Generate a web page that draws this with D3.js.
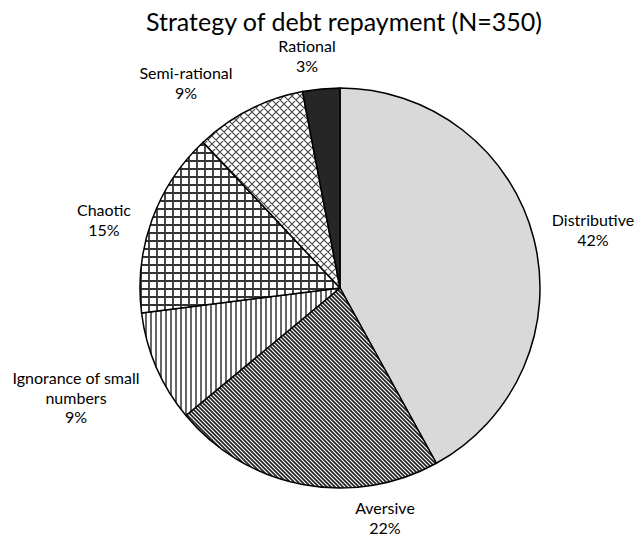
<!DOCTYPE html>
<html>
<head>
<meta charset="utf-8">
<script src="https://cdn.jsdelivr.net/npm/d3@7"></script>
<style>
  body { margin: 0; background: #fff; }
  text { font-family: Lato, "Open Sans", sans-serif; fill: #000; }
</style>
</head>
<body>
<div id="chart"></div>
<script>
'use strict'

// data, clockwise from 12 o'clock
const categories = ['Distributive', 'Aversive', 'Ignorance of small numbers', 'Chaotic', 'Semi-rational', 'Rational']
const shares = [42, 22, 9, 15, 9, 3]
const percentLabels = ['42%', '22%', '9%', '15%', '9%', '3%']
const labelLines = [['Distributive'], ['Aversive'], ['Ignorance of small', 'numbers'], ['Chaotic'], ['Semi-rational'], ['Rational']]

// label anchor (centre x, first baseline y) - placed by hand like the original
const labelPos = [[593, 226], [385, 514], [76, 384], [104, 216], [186, 79], [307, 52]]
const fills = ['#d9d9d9', 'url(#pAversive)', 'url(#pVert)', 'url(#pGrid)', 'url(#pDiamond)', '#262626']

const width = 641
const height = 537
const cx = 340
const cy = 288
const radius = 200

const svg = d3.select('#chart').append('svg')
  .attr('width', width)
  .attr('height', height)

const defs = svg.append('defs')

// dark downward diagonal
const pa = defs.append('pattern').attr('id', 'pAversive')
  .attr('patternUnits', 'userSpaceOnUse').attr('width', 4).attr('height', 4)
pa.append('rect').attr('width', 4).attr('height', 4).attr('fill', '#fff')
pa.append('path').attr('d', 'M-1,-1L5,5M-1,3L1,5M3,-1L5,1')
  .attr('stroke', '#222').attr('stroke-width', 1.7)

// vertical lines
const pv = defs.append('pattern').attr('id', 'pVert')
  .attr('patternUnits', 'userSpaceOnUse').attr('width', 5).attr('height', 5)
pv.append('rect').attr('width', 5).attr('height', 5).attr('fill', '#fff')
pv.append('path').attr('d', 'M1,0V5').attr('stroke', '#333').attr('stroke-width', 1.5)

// large grid
const pg = defs.append('pattern').attr('id', 'pGrid')
  .attr('patternUnits', 'userSpaceOnUse').attr('width', 8).attr('height', 8)
pg.append('rect').attr('width', 8).attr('height', 8).attr('fill', '#fff')
pg.append('path').attr('d', 'M1,0V8M0,1H8').attr('stroke', '#333').attr('stroke-width', 1.8)

// outlined diamond
const pd = defs.append('pattern').attr('id', 'pDiamond')
  .attr('patternUnits', 'userSpaceOnUse').attr('width', 8).attr('height', 8)
pd.append('rect').attr('width', 8).attr('height', 8).attr('fill', '#fff')
pd.append('path').attr('d', 'M0,0L8,8M8,0L0,8M-1,7L1,9M7,-1L9,1M-1,1L1,-1M7,9L9,7')
  .attr('stroke', '#444').attr('stroke-width', 1.1)

const data = categories.map((c, i) => ({ name: c, value: shares[i], i: i }))

const pie = d3.pie().sort(null).value(d => d.value)
const arc = d3.arc().innerRadius(0).outerRadius(radius)

const g = svg.append('g').attr('transform', 'translate(' + cx + ',' + cy + ')')

g.selectAll('path.slice')
  .data(pie(data))
  .enter().append('path')
  .attr('class', 'slice')
  .attr('d', arc)
  .attr('fill', d => fills[d.data.i])
  .attr('stroke', '#000')
  .attr('stroke-width', 1.5)
  .attr('stroke-linejoin', 'round')

// labels
const lab = svg.selectAll('text.lab')
  .data(data)
  .enter().append('text')
  .attr('class', 'lab')
  .attr('text-anchor', 'middle')
  .attr('font-size', 16)

lab.each(function (d) {
  const t = d3.select(this)
  const p = labelPos[d.i]
  const lines = labelLines[d.i].concat([percentLabels[d.i]])
  lines.forEach((ln, k) => {
    t.append('tspan').attr('x', p[0]).attr('y', p[1] + k * 19.5).text(ln)
  })
})

svg.append('text')
  .attr('x', 344)
  .attr('y', 31)
  .attr('text-anchor', 'middle')
  .attr('font-size', 25)
  .text('Strategy of debt repayment (N=350)')
</script>
</body>
</html>
